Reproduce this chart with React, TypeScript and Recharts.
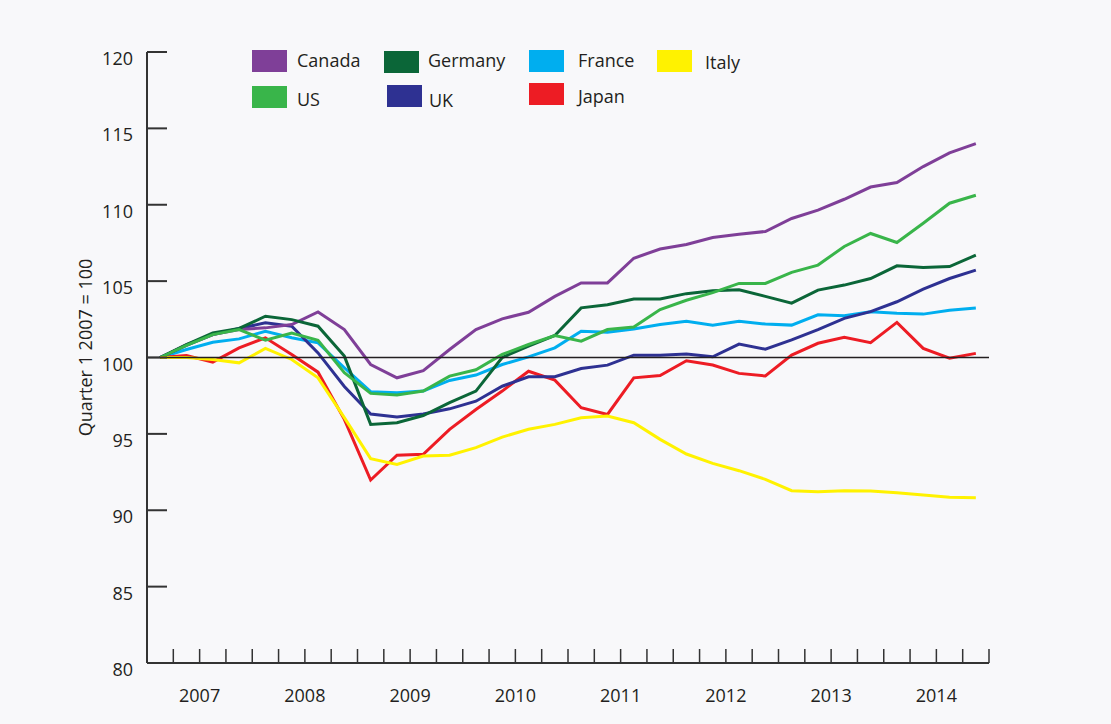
import React from 'react';
import { LineChart, Line, XAxis, YAxis, ReferenceLine } from 'recharts';

const quarters = [
  '2007 Q1', '2007 Q2', '2007 Q3', '2007 Q4',
  '2008 Q1', '2008 Q2', '2008 Q3', '2008 Q4',
  '2009 Q1', '2009 Q2', '2009 Q3', '2009 Q4',
  '2010 Q1', '2010 Q2', '2010 Q3', '2010 Q4',
  '2011 Q1', '2011 Q2', '2011 Q3', '2011 Q4',
  '2012 Q1', '2012 Q2', '2012 Q3', '2012 Q4',
  '2013 Q1', '2013 Q2', '2013 Q3', '2013 Q4',
  '2014 Q1', '2014 Q2', '2014 Q3', '2014 Q4',
];
const years = ['2007', '2008', '2009', '2010', '2011', '2012', '2013', '2014'];
const yTicks = [80, 85, 90, 95, 100, 105, 110, 115, 120];

const canada = [100, 100.85, 101.5, 101.83, 101.94, 102.16, 102.98, 101.83, 99.54, 98.67, 99.14, 100.52, 101.83, 102.53, 102.96, 104.0, 104.88, 104.88, 106.5, 107.1, 107.4, 107.85, 108.07, 108.25, 109.1, 109.65, 110.36, 111.16, 111.45, 112.5, 113.4, 114.0];
const germany = [100, 100.85, 101.6, 101.9, 102.7, 102.48, 102.05, 100.09, 95.62, 95.73, 96.2, 97.04, 97.8, 100.0, 100.75, 101.44, 103.25, 103.46, 103.83, 103.83, 104.18, 104.37, 104.43, 104.0, 103.56, 104.41, 104.74, 105.17, 106.0, 105.9, 105.95, 106.7];
const france = [100, 100.52, 101.0, 101.22, 101.72, 101.29, 100.96, 99.33, 97.76, 97.69, 97.8, 98.5, 98.85, 99.54, 100.04, 100.63, 101.72, 101.65, 101.87, 102.16, 102.37, 102.12, 102.37, 102.19, 102.12, 102.8, 102.73, 103.0, 102.9, 102.84, 103.1, 103.24];
const italy = [100, 100, 99.87, 99.65, 100.59, 99.87, 98.67, 96.06, 93.38, 93.0, 93.55, 93.6, 94.1, 94.79, 95.3, 95.62, 96.06, 96.17, 95.73, 94.64, 93.68, 93.07, 92.59, 92.02, 91.28, 91.21, 91.28, 91.26, 91.15, 91.0, 90.85, 90.82];
const us = [100, 100.8, 101.5, 101.83, 101.13, 101.6, 101.13, 99.0, 97.65, 97.54, 97.8, 98.78, 99.2, 100.2, 100.85, 101.44, 101.07, 101.83, 102.0, 103.14, 103.75, 104.25, 104.85, 104.85, 105.57, 106.05, 107.27, 108.12, 107.53, 108.79, 110.1, 110.62];
const uk = [100, 100.8, 101.5, 101.9, 102.27, 102.05, 100.3, 98.1, 96.3, 96.1, 96.3, 96.64, 97.14, 98.12, 98.74, 98.74, 99.28, 99.5, 100.15, 100.15, 100.23, 100.05, 100.88, 100.54, 101.15, 101.83, 102.56, 103.0, 103.65, 104.48, 105.17, 105.72];
const japan = [100, 100.13, 99.7, 100.63, 101.29, 100.2, 99.04, 95.95, 91.98, 93.6, 93.66, 95.3, 96.6, 97.8, 99.1, 98.52, 96.71, 96.27, 98.67, 98.82, 99.79, 99.51, 98.96, 98.79, 100.16, 100.93, 101.32, 100.97, 102.3, 100.6, 99.95, 100.27];

const seriesNames = ['Canada', 'Germany', 'France', 'Italy', 'US', 'UK', 'Japan'];
const seriesValues = [canada, germany, france, italy, us, uk, japan];
const seriesColors = ['#7f3f98', '#0b6638', '#00aeef', '#fff200', '#39b54a', '#2e3192', '#ed1c24'];

const data = quarters.map((q, i) => {
  const row: Record<string, number | string> = { i, quarter: q };
  seriesNames.forEach((n, s) => {
    row[n] = seriesValues[s][i];
  });
  return row;
});

const xTicks = quarters.map((_, i) => i + 0.5);

const FONT = '"Open Sans", sans-serif';
const TEXT = '#231f20';
const AXIS = '#333333';
const BG = '#f8f8fa';

// legend placement (layout only)
const legendPos: Record<string, { sx: number; sy: number; tx: number; ty: number }> = {
  Canada: { sx: 252, sy: 50, tx: 297, ty: 66.5 },
  Germany: { sx: 384, sy: 51, tx: 428, ty: 66.5 },
  France: { sx: 529, sy: 50, tx: 578, ty: 66.5 },
  Italy: { sx: 657, sy: 50, tx: 705, ty: 69 },
  US: { sx: 252, sy: 86, tx: 297, ty: 106 },
  UK: { sx: 387, sy: 85, tx: 429, ty: 106.5 },
  Japan: { sx: 529, sy: 83, tx: 578, ty: 103 },
};

const drawOrder = ['France', 'Japan', 'UK', 'Canada', 'Germany', 'US', 'Italy'];

function YTick(props: any) {
  const { x, y, payload } = props;
  return (
    <g>
      <line x1={x} x2={x + 20} y1={y} y2={y} stroke={AXIS} strokeWidth={2} />
      <text x={x - 14} y={y + 13} textAnchor="end" fontSize={18} fontFamily={FONT} fill={TEXT}>
        {payload.value}
      </text>
    </g>
  );
}

function XTick(props: any) {
  const { x, y, payload } = props;
  const k = Math.round(payload.value - 0.5);
  const label = k % 4 === 1 ? years[(k - 1) / 4] : null;
  return (
    <g>
      <line x1={x} x2={x} y1={y} y2={y - 14} stroke={AXIS} strokeWidth={1.5} />
      {label && (
        <text x={x} y={y + 38.5} textAnchor="middle" fontSize={18} fontFamily={FONT} fill={TEXT}>
          {label}
        </text>
      )}
    </g>
  );
}

export default function App() {
  return (
    <div style={{ position: 'absolute', left: 0, top: 0, width: 1111, height: 724, background: BG, overflow: 'hidden' }}>
      <LineChart
        width={1111}
        height={724}
        data={data}
        margin={{ top: 52, right: 122, bottom: 31, left: 0 }}
      >
        <XAxis
          dataKey="i"
          type="number"
          domain={[-0.5, 31.5]}
          ticks={xTicks}
          interval={0}
          height={30}
          tickSize={0}
          tickMargin={0}
          tick={<XTick />}
          axisLine={{ stroke: AXIS, strokeWidth: 2 }}
          tickLine={false}
        />
        <YAxis
          type="number"
          domain={[80, 120]}
          ticks={yTicks}
          interval={0}
          width={147}
          tickSize={0}
          tickMargin={0}
          tick={<YTick />}
          axisLine={{ stroke: AXIS, strokeWidth: 2 }}
          tickLine={false}
        />
        {drawOrder.map((n) => (
          <Line
            key={n}
            dataKey={n}
            type="linear"
            stroke={seriesColors[seriesNames.indexOf(n)]}
            strokeWidth={3}
            dot={false}
            activeDot={false}
            isAnimationActive={false}
          />
        ))}
        <ReferenceLine y={100} stroke="#231f20" strokeWidth={1.5} />
      </LineChart>
      <svg
        width={1111}
        height={724}
        style={{ position: 'absolute', left: 0, top: 0, pointerEvents: 'none' }}
      >
        <text
          x={0}
          y={0}
          transform="translate(91.5 347.5) rotate(-90)"
          textAnchor="middle"
          fontSize={18}
          fontFamily={FONT}
          fill={TEXT}
        >
          Quarter 1 2007 = 100
        </text>
        {seriesNames.map((n, s) => {
          const p = legendPos[n];
          return (
            <g key={n}>
              <rect x={p.sx} y={p.sy} width={35} height={22} fill={seriesColors[s]} />
              <text x={p.tx} y={p.ty} fontSize={18} fontFamily={FONT} fill={TEXT}>
                {n}
              </text>
            </g>
          );
        })}
      </svg>
    </div>
  );
}
